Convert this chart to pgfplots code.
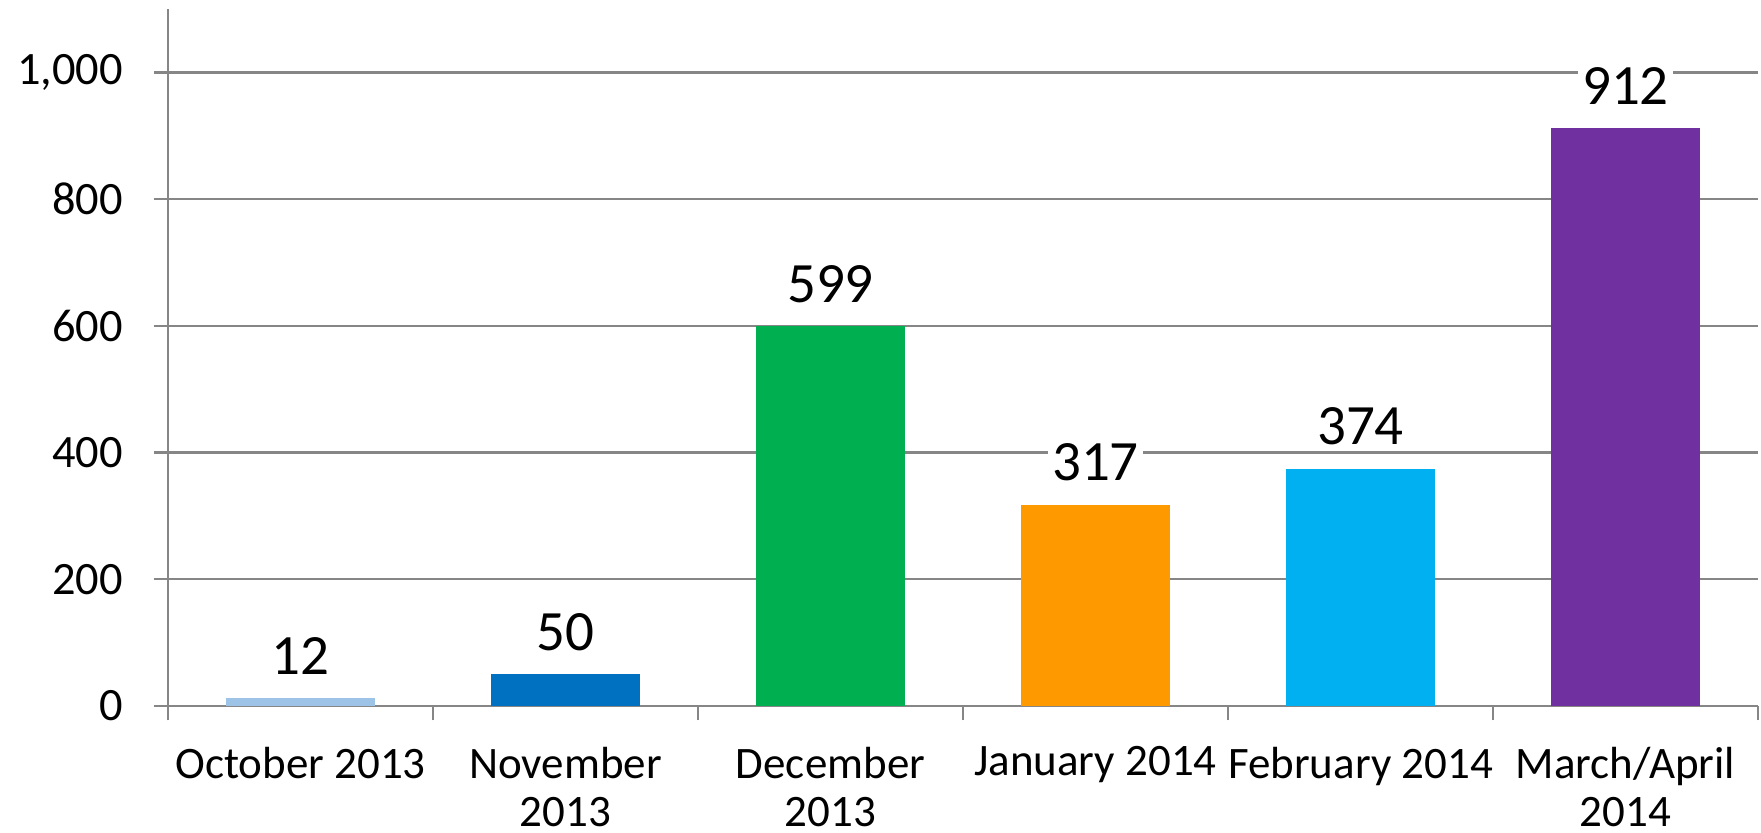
\documentclass[border=0pt]{standalone}
\usepackage{fontspec}
\setmainfont{Carlito}
\usepackage{pgfplots}
\pgfplotsset{compat=1.18}
\definecolor{cOct}{HTML}{9DC3E6}
\definecolor{cNov}{HTML}{0070C0}
\definecolor{cDec}{HTML}{00B050}
\definecolor{cJan}{HTML}{FF9900}
\definecolor{cFeb}{HTML}{00B0F0}
\definecolor{cMar}{HTML}{7030A0}
\definecolor{cGrid}{HTML}{868686}
\begin{document}
\begin{tikzpicture}
\useasboundingbox (-42pt,-31.75pt) rectangle (398.25pt,176.5pt);
\begin{axis}[
  at={(0,0)}, anchor=south west,
  scale only axis, width=397.5pt, height=174.25pt,
  xmin=-0.5, xmax=5.5, ymin=0, ymax=1100,
  axis lines*=left,
  axis line style={draw=cGrid, line width=0.6pt},
  ybar,
  ytick={0,200,400,600,800,1000},
  ymajorgrids,
  grid style={draw=cGrid, line width=0.6pt},
  tick align=outside,
  major tick length=3.6pt,
  tick style={draw=cGrid, line width=0.6pt},
  xtick={-0.5,0.5,1.5,2.5,3.5,4.5,5.5},
  xticklabels={October 2013, {November\\2013}, {December\\2013}, January 2014, February 2014, {March/April\\2014}, {}},
  xticklabel style={align=center, anchor=north, inner sep=0pt, xshift=33.125pt, yshift=-6.4pt, font=\fontsize{11.25}{12.1}\selectfont},
  yticklabel style={anchor=east, inner sep=0pt, xshift=-7.5pt, font=\fontsize{11.6}{11.6}\selectfont},
  scaled y ticks=false,
  /pgf/number format/1000 sep={,},
  /pgf/number format/assume math mode=true,
  nodes near coords,
  every node near coord/.append style={font=\fontsize{14.25}{14.25}\selectfont, text=black, fill=white, inner xsep=1pt, inner ysep=0pt, yshift=5.75pt},
]
\addplot[bar width=0.562, bar shift=0pt, fill=cOct, draw=none] coordinates {(0,12)};
\addplot[bar width=0.562, bar shift=0pt, fill=cNov, draw=none] coordinates {(1,50)};
\addplot[bar width=0.562, bar shift=0pt, fill=cDec, draw=none] coordinates {(2,599)};
\addplot[bar width=0.562, bar shift=0pt, fill=cJan, draw=none] coordinates {(3,317)};
\addplot[bar width=0.562, bar shift=0pt, fill=cFeb, draw=none] coordinates {(4,374)};
\addplot[bar width=0.562, bar shift=0pt, fill=cMar, draw=none] coordinates {(5,912)};
\end{axis}
\end{tikzpicture}
\end{document}
